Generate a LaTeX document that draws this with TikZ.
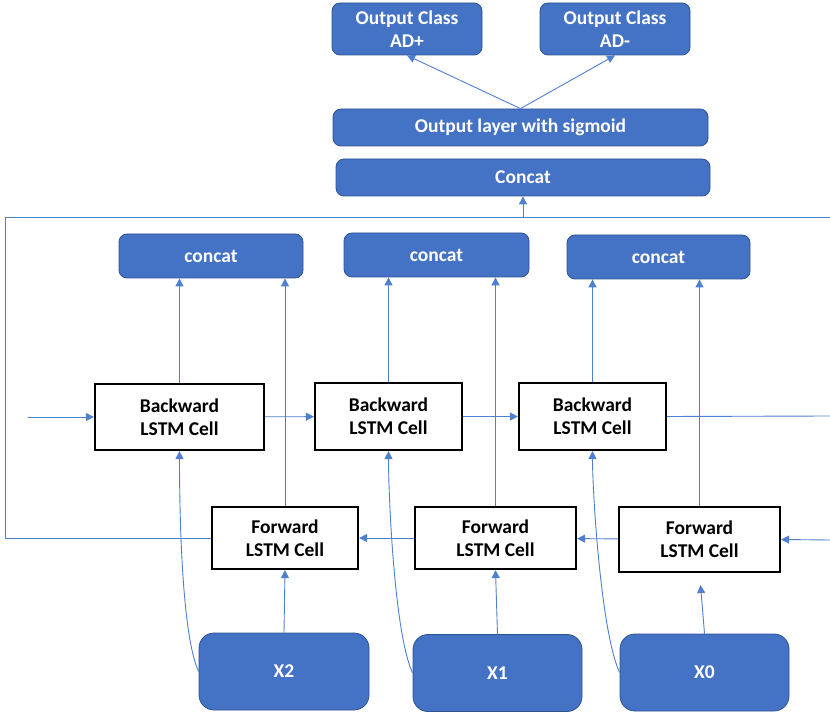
\documentclass[tikz,border=0pt]{standalone}
\usepackage{fontspec}
\setmainfont{Carlito}
\usetikzlibrary{arrows.meta}
\definecolor{boxblue}{HTML}{4472C4}
\definecolor{boxedge}{HTML}{2F528F}
\definecolor{linkblue}{HTML}{4F7FD0}
\tikzset{
  >={Triangle[width=8pt,length=8pt]},
  bluebox/.style={draw=boxedge,fill=boxblue,line width=0.8pt,rounded corners=8pt,
    text=white,font=\fontsize{19.5}{23}\selectfont\bfseries,align=center,inner sep=0pt},
  inbox/.style={bluebox,rounded corners=15pt,minimum width=169pt,minimum height=77pt},
  cellbox/.style={draw=black,fill=white,line width=2.2pt,inner sep=0pt,align=center,
    font=\fontsize{19.5}{23}\selectfont\bfseries},
  link/.style={draw=linkblue,line width=0.9pt}
}
\begin{document}
\begin{tikzpicture}[x=1pt,y=1pt]
\useasboundingbox (0,0) rectangle (830,713);
% Output classes and output layers at the top
\node[bluebox,minimum width=150pt,minimum height=52pt] (adp) at (407,684) {Output Class\\AD+};
\node[bluebox,minimum width=150pt,minimum height=52pt] (adm) at (615,684) {Output Class\\AD-};
\node[bluebox,minimum width=375pt,minimum height=37pt] (sig) at (520.5,585.5) {Output layer with sigmoid};
\node[bluebox,minimum width=374pt,minimum height=37pt] (cat) at (523,535.5) {Concat};
% Concat boxes of each time step
\node[bluebox,minimum width=184pt,minimum height=44pt] (c1) at (211,457) {concat};
\node[bluebox,minimum width=185pt,minimum height=44pt] (c2) at (436.5,458) {concat};
\node[bluebox,minimum width=183pt,minimum height=44pt] (c3) at (658.5,456) {concat};
% Backward LSTM cells
\node[cellbox,minimum width=169pt,minimum height=66pt] (bw1) at (179.5,296) {Backward\\LSTM Cell};
\node[cellbox,minimum width=147pt,minimum height=67pt] (bw2) at (388.5,296.5) {Backward\\LSTM Cell};
\node[cellbox,minimum width=147pt,minimum height=67pt] (bw3) at (592.5,296.5) {Backward\\LSTM Cell};
% Forward LSTM cells
\node[cellbox,minimum width=146pt,minimum height=62pt] (fw1) at (285,175) {Forward\\LSTM Cell};
\node[cellbox,minimum width=161pt,minimum height=62pt] (fw2) at (495.5,175) {Forward\\LSTM Cell};
\node[cellbox,minimum width=161pt,minimum height=65pt] (fw3) at (699.5,173.5) {Forward\\LSTM Cell};
% Inputs
\node[inbox,minimum width=170pt] (x2) at (284,41.5) {X2};
\node[inbox] (x1) at (497.5,40) {X1};
\node[inbox] (x0) at (704.5,40.5) {X0};
% Free ends of the lines
\coordinate (loopL) at (5,496);
\coordinate (loopR) at (830,496);
\coordinate (tap) at (523,496);
\coordinate (bin) at (28,296);
\coordinate (bout) at (830,297);
\coordinate (fin) at (830,173);
% Output arrows
\draw[link,->] (sig.north) -- (adp.south);
\draw[link,->] (sig.north) -- (adm.south);
% Line collecting the last forward state
\draw[link] (fw1.west) -| (loopL) -- (loopR);
\draw[link,->] (tap) -- (cat.south);
% Backward chain
\draw[link,->] (bin) -- (bw1);
\draw[link,->] (bw1) -- (bw2);
\draw[link,->] (bw2) -- (bw3);
\draw[link] (bw3.east) -- (bout);
% Forward chain
\draw[link,->] (fin) -- (fw3.east);
\draw[link,->] (fw3) -- (fw2);
\draw[link,->] (fw2) -- (fw1);
% Cells into the concat boxes
\draw[link,->] (bw1.north) -- (bw1.north |- c1.south);
\draw[link,->] (fw1.north) -- (fw1.north |- c1.south);
\draw[link,->] (bw2.north) -- (bw2.north |- c2.south);
\draw[link,->] (fw2.north) -- (fw2.north |- c2.south);
\draw[link,->] (bw3.north) -- (bw3.north |- c3.south);
\draw[link,->] (fw3.north) -- (fw3.north |- c3.south);
% Inputs into the cells
\draw[link,->] (x2.north) -- (fw1.south);
\draw[link,->] (x1.north) -- (fw2.south);
\draw[link,->,shorten >=12pt] (x0.north) -- (fw3.south);
\draw[link,->] (x2.west) to[out=115,in=-90,looseness=0.5] (bw1.south);
\draw[link,->] (x1.west) to[out=115,in=-90,looseness=0.5] (bw2.south);
\draw[link,->] (x0.west) to[out=115,in=-90,looseness=0.5] (bw3.south);
\end{tikzpicture}
\end{document}
